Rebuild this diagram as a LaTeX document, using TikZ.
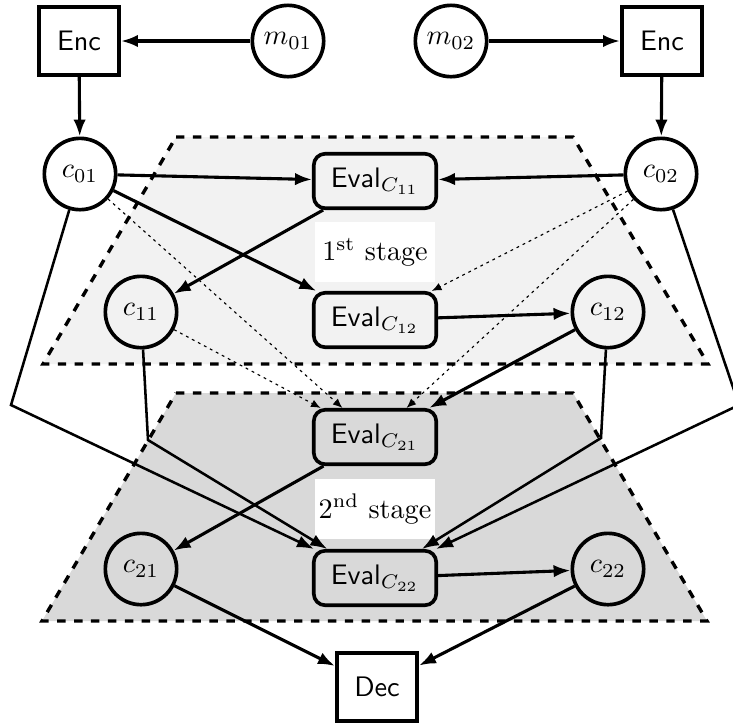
\documentclass[tikz,border=0pt]{standalone}
\usetikzlibrary{arrows.meta}
\definecolor{stageA}{gray}{0.95}
\definecolor{stageB}{gray}{0.85}
\begin{document}
\begin{tikzpicture}[x=0.3546pt,y=-0.3546pt,
  box/.style={draw,line width=1.3pt,minimum width=28.5pt,minimum height=24.2pt,font=\sffamily,inner sep=0pt},
  circ/.style={draw,line width=1.3pt,circle,minimum size=25.3pt,inner sep=0pt},
  evalbox/.style={draw,line width=1.3pt,rounded corners=4pt,minimum width=43.4pt,minimum height=19.3pt,inner sep=0pt},
  stagelabel/.style={fill=white,minimum width=42.5pt,minimum height=21pt,inner sep=0pt},
  arr/.style={line width=1.1pt,-{Latex[length=6pt,width=4.4pt]}},
  bent/.style={line width=0.9pt,-{Latex[length=6pt,width=4.4pt]}},
  dots/.style={thin,dash pattern=on 1pt off 1.4pt,-{Latex[length=3.4pt,width=2.8pt]}},
  stage/.style={very thick,dashed},
]
\useasboundingbox (0,0) rectangle (733,726);
% stages
\draw[stage,fill=stageA] (176,137) -- (573,137) -- (708,364) -- (43,364) -- cycle;
\draw[stage,fill=stageB] (176,393) -- (573,393) -- (707,621) -- (42,621) -- cycle;
% nodes
\node[box] (encL) at (79,41) {Enc};
\node[circ] (m01) at (288,41) {$m_{01}$};
\node[circ] (m02) at (451,41) {$m_{02}$};
\node[box] (encR) at (662,41) {Enc};
\node[circ] (c01) at (80,174) {$c_{01}$};
\node[circ] (c02) at (661,174) {$c_{02}$};
\node[evalbox] (e11) at (375,181) {{\sffamily Eval}$_{C_{11}}$};
\node[evalbox] (e12) at (375,320) {{\sffamily Eval}$_{C_{12}}$};
\node[circ] (c11) at (141,312) {$c_{11}$};
\node[circ] (c12) at (608,312) {$c_{12}$};
\node[evalbox] (e21) at (375,437) {{\sffamily Eval}$_{C_{21}}$};
\node[evalbox] (e22) at (375,578) {{\sffamily Eval}$_{C_{22}}$};
\node[circ] (c21) at (141,569) {$c_{21}$};
\node[circ] (c22) at (608,569) {$c_{22}$};
\node[box] (dec) at (377,687) {Dec};
\node[stagelabel] (s1) at (375,252) {1\textsuperscript{st} stage};
\node[stagelabel] (s2) at (375,509) {2\textsuperscript{nd} stage};
\coordinate (b1) at (11,405);
\coordinate (b2) at (148,440);
\coordinate (b3) at (601,438);
\coordinate (b4) at (739,405);
% edges
\draw[arr] (m01) -- (encL);
\draw[arr] (m02) -- (encR);
\draw[arr] (encL) -- (c01);
\draw[arr] (encR) -- (c02);
\draw[arr] (c01) -- (e11);
\draw[arr] (c02) -- (e11);
\draw[arr] (c01) -- (e12);
\draw[arr] (e11) -- (c11);
\draw[arr] (e12) -- (c12);
\draw[arr] (c12) -- (e21);
\draw[arr] (e21) -- (c21);
\draw[arr] (e22) -- (c22);
\draw[arr] (c21) -- (dec);
\draw[arr] (c22) -- (dec);
\draw[bent] (c01) -- (b1) -- (e22);
\draw[bent] (c11) -- (b2) -- (e22);
\draw[bent] (c12) -- (b3) -- (e22);
\draw[bent] (c02) -- (b4) -- (e22);
\draw[dots] (c01) -- (e21);
\draw[dots] (c11) -- (e21);
\draw[dots] (c02) -- (e12);
\draw[dots] (c02) -- (e21);
\end{tikzpicture}
\end{document}
